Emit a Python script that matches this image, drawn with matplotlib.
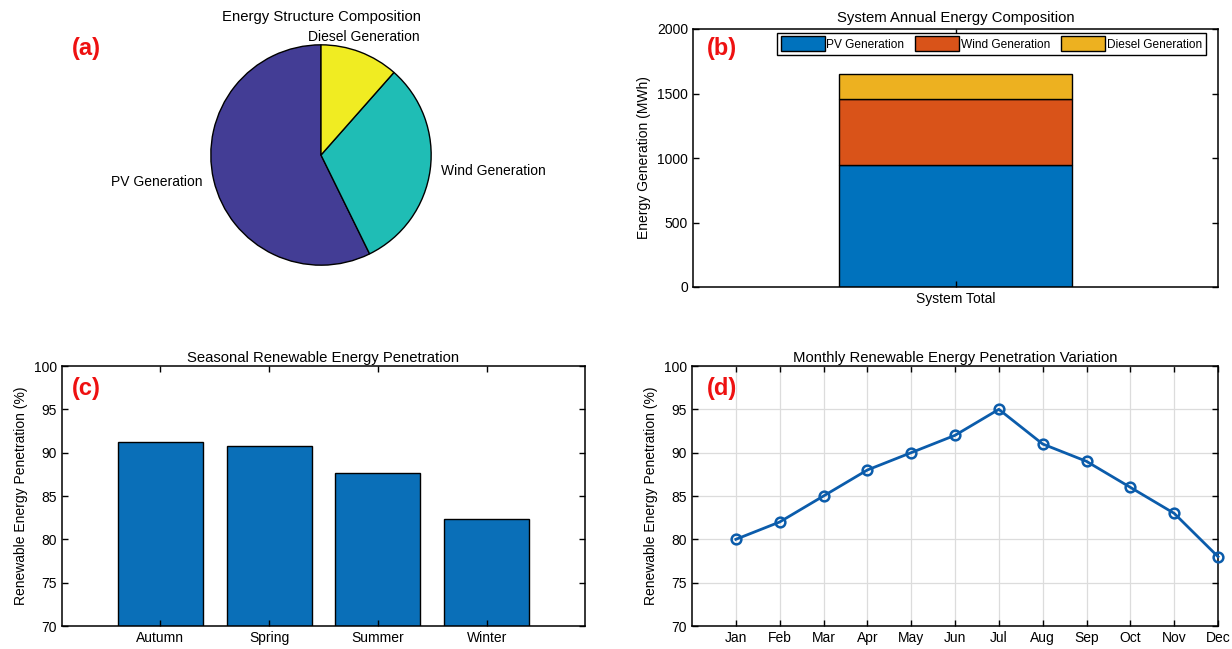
import matplotlib
matplotlib.use("Agg")
import matplotlib.pyplot as plt
import numpy as np

plt.rcParams['font.family'] = ['Liberation Sans', 'DejaVu Sans']
plt.rcParams['font.size'] = 10

# annual generation by source (MWh)
sources = ["PV Generation", "Wind Generation", "Diesel Generation"]
energy = [945, 515, 190]
pie_colors = ['#433d95', '#1fbdb5', '#f0ec22']
bar_colors = ['#0072bd', '#d95319', '#edb120']

seasons = ["Autumn", "Spring", "Summer", "Winter"]
season_pen = [91.2, 90.8, 87.7, 82.4]

months = ["Jan", "Feb", "Mar", "Apr", "May", "Jun", "Jul", "Aug", "Sep", "Oct", "Nov", "Dec"]
month_pen = [80, 82, 85, 88, 90, 92, 95, 91, 89, 86, 83, 78]

W, H = 1232, 649
TITLE = 10.7
fig = plt.figure(figsize=(W / 100, H / 100), dpi=100)


def box(ax):
    ax.tick_params(direction='in', top=True, right=True, length=4, width=1, labelsize=10)
    for s in ax.spines.values():
        s.set_linewidth(1.1)


# (a) pie
ax1 = fig.add_axes([(321 - 130) / W, 1 - (155 + 130) / H, 260 / W, 260 / H])
wedges, texts = ax1.pie(energy, labels=sources, colors=pie_colors, startangle=90,
                        counterclock=True, labeldistance=1.1,
                        wedgeprops=dict(edgecolor='black', linewidth=1),
                        textprops=dict(fontsize=10))
# diesel label sits centred above its slice
tx, ty = texts[2].get_position()
texts[2].set_ha('center')
texts[2].set_position((tx, ty + 0.04))
ax1.set_xlim(-1.18, 1.18)
ax1.set_ylim(-1.18, 1.18)
ax1.set_title("Energy Structure Composition", fontsize=TITLE, pad=3)

# (b) stacked bar
ax2 = fig.add_axes([693 / W, 1 - 287 / H, 525 / W, 258 / H])
bottom = 0
for name, val, c in zip(sources, energy, bar_colors):
    ax2.bar([0], [val], bottom=bottom, width=0.8, color=c, edgecolor='black',
            linewidth=1, label=name)
    bottom += val
ax2.set_xlim(-0.9, 0.9)
ax2.set_ylim(0, 2000)
ax2.set_yticks(np.arange(0, 2001, 500))
ax2.set_xticks([0])
ax2.set_xticklabels(["System Total"])
ax2.set_ylabel("Energy Generation (MWh)")
ax2.set_title("System Annual Energy Composition", fontsize=TITLE, pad=5)
box(ax2)
ax2.legend(loc='upper right', ncol=3, fontsize=8.6, frameon=True, fancybox=False,
           edgecolor='black', framealpha=1, handlelength=3.7, handleheight=1.5,
           handletextpad=0.15, columnspacing=0.9, borderpad=0.3, borderaxespad=0,
           bbox_to_anchor=(0.977, 0.985))

# (c) seasonal bars
ax3 = fig.add_axes([62 / W, 1 - 626 / H, 523 / W, 260 / H])
xs = np.arange(1, len(seasons) + 1)
ax3.bar(xs, season_pen, width=0.78, color='#0a6fb8', edgecolor='black', linewidth=1)
ax3.set_xlim(0.1, 4.9)
ax3.set_ylim(70, 100)
ax3.set_xticks(xs)
ax3.set_xticklabels(seasons)
ax3.set_ylabel("Renewable Energy Penetration (%)")
ax3.set_title("Seasonal Renewable Energy Penetration", fontsize=TITLE, pad=3)
box(ax3)

# (d) monthly line
ax4 = fig.add_axes([692 / W, 1 - 626 / H, 526 / W, 260 / H])
xm = np.arange(1, len(months) + 1)
ax4.plot(xm, month_pen, '-o', color='#0b5cab', linewidth=2, markersize=7,
         markerfacecolor='none', markeredgewidth=1.8, clip_on=False, zorder=3)
ax4.set_xlim(0, 12)
ax4.set_ylim(70, 100)
ax4.set_xticks(xm)
ax4.set_xticklabels(months)
ax4.set_yticks(np.arange(70, 101, 5))
ax4.grid(True, color='#dcdcdc', linewidth=0.9)
ax4.set_axisbelow(True)
ax4.set_ylabel("Renewable Energy Penetration (%)")
ax4.set_title("Monthly Renewable Energy Penetration Variation", fontsize=TITLE, pad=3)
box(ax4)

# panel tags
for tag, (px, py) in zip(["(a)", "(b)", "(c)", "(d)"],
                         [(86, 48), (722, 48), (86, 388), (722, 388)]):
    fig.text(px / W, 1 - py / H, tag, color='#ee1111', fontsize=17,
             fontweight='bold', ha='center', va='center')

fig.savefig("out.png", dpi=100)
